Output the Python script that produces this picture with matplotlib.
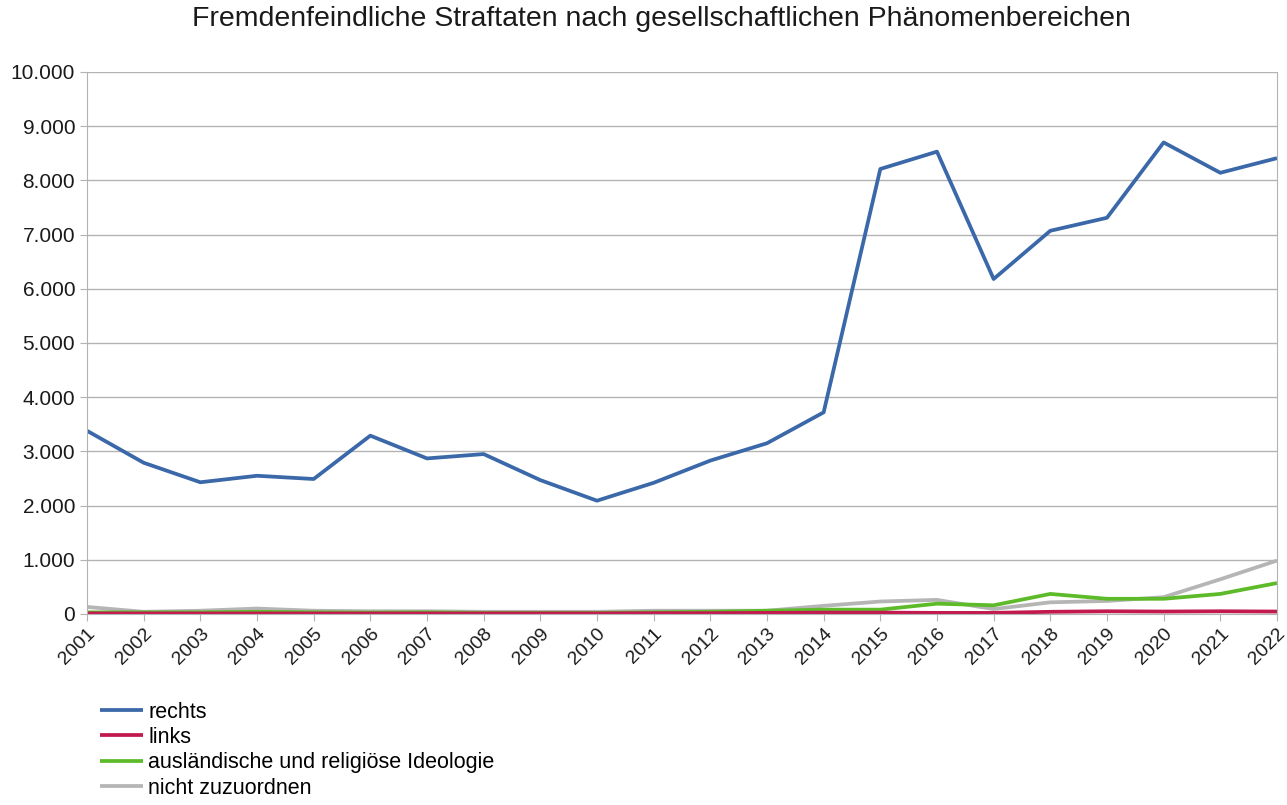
import numpy as np
import matplotlib
matplotlib.use('Agg')
import matplotlib.pyplot as plt
from matplotlib.ticker import FuncFormatter, MultipleLocator

plt.rcParams['font.family'] = ['Liberation Sans', 'DejaVu Sans']

# Data
years = list(range(2001, 2023))
rechts = [3380, 2790, 2430, 2550, 2490, 3290, 2870, 2950, 2470, 2090, 2420, 2830, 3150, 3720,
          8210, 8530, 6180, 7070, 7310, 8700, 8140, 8410]
links = [10, 10, 10, 10, 10, 10, 10, 10, 10, 10, 15, 15, 20, 25,
         25, 20, 20, 40, 50, 45, 50, 45]
auslaendisch = [30, 30, 30, 40, 30, 25, 30, 20, 20, 20, 30, 40, 60, 80,
                80, 190, 160, 370, 280, 280, 370, 570]
nicht_zuzuordnen = [130, 40, 60, 100, 60, 50, 50, 40, 40, 40, 60, 60, 60, 150,
                    230, 260, 90, 215, 240, 310, 640, 985]

series = [
    ('rechts', rechts, '#3a68a8'),
    ('links', links, '#c21a4e'),
    ('ausländische und religiöse Ideologie', auslaendisch, '#5dbb2a'),
    ('nicht zuzuordnen', nicht_zuzuordnen, '#b5b5b5'),
]

fig = plt.figure(figsize=(12.87, 8.05), dpi=100)
ax = fig.add_axes([0.0676, 0.2373, 0.9246, 0.6733])

# draw in reverse so that rechts sits on top
for name, vals, color in reversed(series):
    ax.plot(years, vals, color=color, linewidth=2.7, label=name, solid_capstyle='butt')

ax.set_xlim(2001, 2022)
ax.set_ylim(0, 10000)
ax.yaxis.set_major_locator(MultipleLocator(1000))
ax.yaxis.set_major_formatter(FuncFormatter(lambda v, p: f'{int(v):,}'.replace(',', '.')))
ax.set_xticks(years)
ax.set_xticklabels([str(y) for y in years], rotation=45, ha='right', rotation_mode='anchor',
                   fontsize=14)

ax.grid(axis='y', color='#b3b3b3', linewidth=1)
ax.set_axisbelow(True)
ax.spines['top'].set_visible(False)
for side in ['left', 'right', 'bottom']:
    ax.spines[side].set_color('#b3b3b3')
ax.tick_params(axis='both', colors='#b3b3b3', labelcolor='#1a1a1a', length=5)
ax.tick_params(axis='y', labelsize=15)
ax.tick_params(axis='x', pad=3)

fig.text(661 / 1287, 1 - 19 / 805, 'Fremdenfeindliche Straftaten nach gesellschaftlichen Phänomenbereichen',
         fontsize=20.5, color='#1a1a1a', ha='center', va='center')

handles, labels = ax.get_legend_handles_labels()
fig.legend(handles[::-1], labels[::-1], loc='upper left', bbox_to_anchor=(0.0707, 0.139),
           frameon=False, fontsize=15.5, handlelength=2.0, handletextpad=0.25,
           labelspacing=0.2, borderaxespad=0)

fig.savefig('out.png', dpi=100)
